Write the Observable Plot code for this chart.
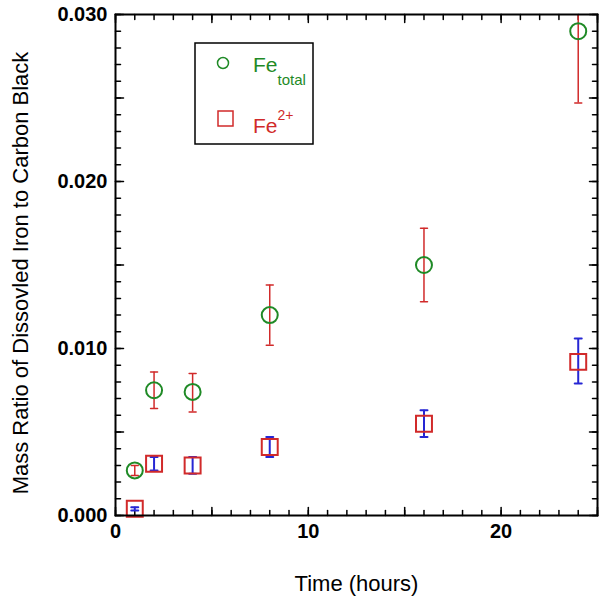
<!DOCTYPE html>
<html><head><meta charset="utf-8">
<script src="https://cdn.jsdelivr.net/npm/d3@7"></script>
<script src="https://cdn.jsdelivr.net/npm/@observablehq/plot@0.6"></script>
<style>body{margin:0;background:#fff} #chart svg{display:block}</style>
</head><body><div id="chart"></div>
<script>
// ---- data ----
const hours = [1, 2, 4, 8, 16, 24];
const feTotal     = [0.0027, 0.0075, 0.0074, 0.0120, 0.0150, 0.0290];
const feTotalLow  = [0.0024, 0.0064, 0.0062, 0.0102, 0.0128, 0.0247];
const feTotalHigh = [0.0030, 0.0086, 0.0085, 0.0138, 0.0172, 0.0333];
const fe2     = [0.0004, 0.0031, 0.0030, 0.0041, 0.0055, 0.0092];
const fe2Low  = [0.0003, 0.0027, 0.0025, 0.0035, 0.0047, 0.0079];
const fe2High = [0.0005, 0.0035, 0.0035, 0.0047, 0.0063, 0.0106];
const xTickLabels = [0, 10, 20];
const yTickLabels = [0, 0.01, 0.02, 0.03];
const xMinorTicks = d3.range(0, 26, 1);
const xMajorTicks = [0, 5, 10, 15, 20, 25];
const yMinorTicks = d3.range(0, 31, 1).map(d => d / 1000);
const yMajorTicks = [0, 0.005, 0.01, 0.015, 0.02, 0.025, 0.03];

const totalRows = hours.map((h, i) => ({h, v: feTotal[i], lo: feTotalLow[i], hi: feTotalHigh[i]}));
const fe2Rows = hours.map((h, i) => ({h, v: fe2[i], lo: fe2Low[i], hi: fe2High[i]}));

const GREEN = "#1f8a26", RED = "#d12a2a", BLUE = "#2626d4";
const FONT = "Liberation Sans, Arial, Helvetica, sans-serif";

const tickShape = {draw(ctx, l) { ctx.moveTo(0, 0); ctx.lineTo(0, -l); }};
const capShape = {draw(ctx, l) { ctx.moveTo(-l / 2, 0); ctx.lineTo(l / 2, 0); }};

function ticksX(data, len) {
  return [
    Plot.vectorX(data, {x: d => d, frameAnchor: "bottom", anchor: "start", rotate: 0, length: len, shape: tickShape, stroke: "#000", strokeWidth: 1.5}),
    Plot.vectorX(data, {x: d => d, frameAnchor: "top", anchor: "start", rotate: 180, length: len, shape: tickShape, stroke: "#000", strokeWidth: 1.5})
  ];
}
function ticksY(data, len) {
  return [
    Plot.vectorY(data, {y: d => d, frameAnchor: "left", anchor: "start", rotate: 90, length: len, shape: tickShape, stroke: "#000", strokeWidth: 1.5}),
    Plot.vectorY(data, {y: d => d, frameAnchor: "right", anchor: "start", rotate: -90, length: len, shape: tickShape, stroke: "#000", strokeWidth: 1.5})
  ];
}
function errorBars(rows, color, w) {
  return [
    Plot.ruleX(rows, {x: "h", y1: "lo", y2: "hi", stroke: color, strokeWidth: w, clip: true}),
    Plot.vector(rows, {x: "h", y: "lo", anchor: "start", rotate: 0, length: 7, shape: capShape, stroke: color, strokeWidth: w, clip: true}),
    Plot.vector(rows, {x: "h", y: "hi", anchor: "start", rotate: 0, length: 7, shape: capShape, stroke: color, strokeWidth: w, clip: true})
  ];
}

const chart = Plot.plot({
  width: 600,
  height: 604,
  marginLeft: 115,
  marginRight: 3,
  marginTop: 14,
  marginBottom: 89,
  style: {fontFamily: FONT, background: "#fff", overflow: "visible"},
  x: {domain: [0, 25]},
  y: {domain: [0, 0.03]},
  marks: [
    ...ticksX(xMinorTicks, 5),
    ...ticksX(xMajorTicks, 8),
    ...ticksY(yMinorTicks, 5),
    ...ticksY(yMajorTicks, 8),
    Plot.axisX({ticks: xTickLabels, tickSize: 0, tickPadding: 8, fontSize: 20, fontWeight: "bold", label: null, tickFormat: d3.format("d"), fill: "#000"}),
    Plot.axisY({ticks: yTickLabels, tickSize: 0, tickPadding: 8, fontSize: 20, fontWeight: "bold", label: null, tickFormat: d3.format(".3f"), fill: "#000"}),
    ...errorBars(totalRows, RED, 1.5),
    ...errorBars(fe2Rows, BLUE, 2),
    Plot.dot(totalRows, {x: "h", y: "v", r: 8, stroke: GREEN, strokeWidth: 2, fill: "none"}),
    Plot.dot(fe2Rows, {x: "h", y: "v", r: 9, symbol: "square", stroke: RED, strokeWidth: 2, fill: "none"}),
    Plot.frame({stroke: "#000", strokeWidth: 2}),
    Plot.text(["Time (hours)"], {frameAnchor: "bottom", dy: 75, fontSize: 22, fill: "#000"}),
    Plot.text(["Mass Ratio of Dissovled Iron to Carbon Black"], {frameAnchor: "left", dx: -95, dy: 8, rotate: -90, textAnchor: "middle", lineAnchor: "middle", fontSize: 22, fill: "#000"})
  ]
});

// legend box
const svg = d3.select(chart);
const lg = svg.append("g").attr("font-family", FONT).attr("text-anchor", "start");
lg.append("rect").attr("x", 195).attr("y", 43).attr("width", 118).attr("height", 101)
  .attr("fill", "#fff").attr("stroke", "#000").attr("stroke-width", 1.5);
lg.append("circle").attr("cx", 223).attr("cy", 63).attr("r", 5.5)
  .attr("fill", "none").attr("stroke", GREEN).attr("stroke-width", 1.5);
const t1 = lg.append("text").attr("x", 253).attr("y", 72).attr("fill", GREEN).attr("font-size", 21).attr("text-anchor", "start");
t1.append("tspan").text("Fe");
t1.append("tspan").attr("font-size", 15).attr("dy", 13).text("total");
lg.append("rect").attr("x", 218).attr("y", 111).attr("width", 15).attr("height", 15)
  .attr("fill", "none").attr("stroke", RED).attr("stroke-width", 1.5);
const t2 = lg.append("text").attr("x", 253).attr("y", 133).attr("fill", RED).attr("font-size", 21).attr("text-anchor", "start");
t2.append("tspan").text("Fe");
t2.append("tspan").attr("font-size", 14).attr("dy", -13).text("2+");

document.getElementById("chart").appendChild(chart);
</script>
</body></html>
